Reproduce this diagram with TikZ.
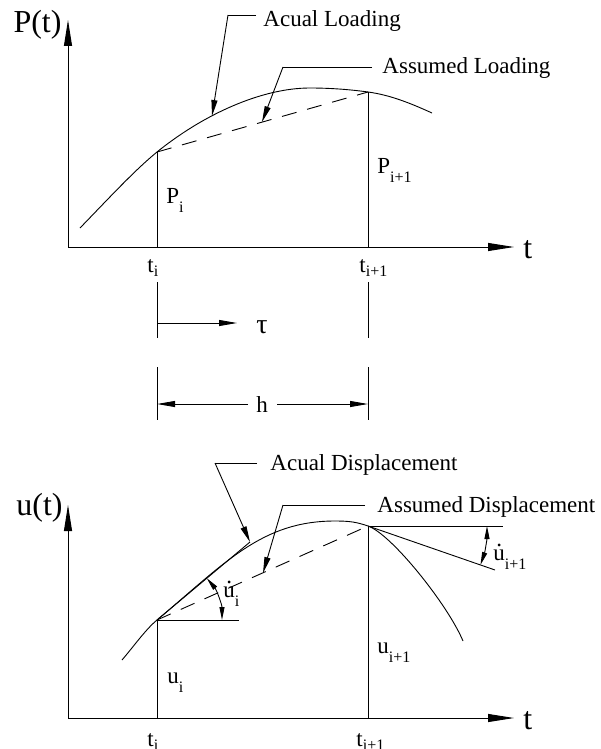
\documentclass[tikz,border=0pt]{standalone}
\usepackage{fontspec}
\setmainfont{Liberation Serif}
\usetikzlibrary{arrows.meta}
\newcommand\subs[2][0.4em]{\raisebox{-#1}{\fontsize{16}{16}\selectfont #2}}
\newcommand\udot{\ooalign{u\cr\hidewidth\raisebox{0.6em}{.}\hidewidth\cr}}
\begin{document}
\begin{tikzpicture}[x=1pt,y=-1pt, line width=0.9pt,
  lbl/.style={inner sep=0pt, font=\fontsize{23}{27}\selectfont},
  big/.style={inner sep=0pt, font=\fontsize{32}{36}\selectfont},
  taufont/.style={inner sep=0pt, font=\fontsize{28}{32}\selectfont},
  axisarrow/.style={-{Triangle[length=26pt,width=8pt]}},
  leadarrow/.style={-{Triangle[length=16pt,width=6pt]}},
  dimarrow/.style={-{Triangle[length=18pt,width=6pt]}},
  angarrow/.style={{Triangle[length=13pt,width=5pt]}-{Triangle[length=13pt,width=5pt]}},
  dashline/.style={dash pattern=on 15pt off 11pt}]
\useasboundingbox (0,0) rectangle (601,749);
% ---------- top plot ----------
\coordinate (O1) at (68,247);
\coordinate (Y1) at (68,20);
\coordinate (X1) at (514,247);
\coordinate (A0) at (80,228);
\coordinate (Pi) at (157,152);
\coordinate (Pk) at (310,88);
\coordinate (Pj) at (368,92);
\coordinate (A1) at (432,113);
\coordinate (ti) at (157,247);
\coordinate (tj) at (368,247);
\draw[axisarrow] (O1) -- (Y1);
\draw[axisarrow] (O1) -- (X1);
\draw (A0) .. controls (110,197) and (135,170) .. (Pi)
      .. controls (204,114) and (262,88) .. (Pk)
      .. controls (330,88) and (350,89.5) .. (Pj)
      .. controls (390,95) and (410,103) .. (A1);
\draw[dashline] (Pi) -- (Pj);
\draw (Pi) -- (ti);
\draw (Pj) -- (tj);
\node[big, anchor=base east] (Pt) at (62,33) {P(t)};
\node[big, anchor=base west] (t1) at (523,258) {t};
\node[lbl, anchor=base west] (Pilab) at (166,203) {P\subs{i}};
\node[lbl, anchor=base west] (Pjlab) at (377,173) {P\subs{i+1}};
\node[lbl, anchor=base west] (tilab) at (147,272) {t\subs[0.2em]{i}};
\node[lbl, anchor=base west] (tjlab) at (359,272) {t\subs[0.2em]{i+1}};
% leaders top
\coordinate (L1a) at (228,15);
\coordinate (L1b) at (256,15);
\coordinate (L1t) at (212,116);
\node[lbl, anchor=base west] (AL) at (263,27) {Acual Loading};
\draw (L1b) -- (L1a);
\draw[leadarrow] (L1a) -- (L1t);
\coordinate (L2a) at (283,67);
\coordinate (L2b) at (372,67);
\coordinate (L2t) at (262,122);
\node[lbl, anchor=base west] (SL) at (382,74) {Assumed Loading};
\draw (L2b) -- (L2a);
\draw[leadarrow] (L2a) -- (L2t);
% ---------- dimensions ----------
\coordinate (e1a) at (157,282);
\coordinate (e1b) at (157,338);
\coordinate (e1c) at (157,367);
\coordinate (e1d) at (157,420);
\coordinate (e2a) at (368,282);
\coordinate (e2b) at (368,338);
\coordinate (e2c) at (368,367);
\coordinate (e2d) at (368,420);
\draw (e1a) -- (e1b);
\draw (e1c) -- (e1d);
\draw (e2a) -- (e2b);
\draw (e2c) -- (e2d);
\coordinate (tau0) at (157,323);
\coordinate (tau1) at (237,323);
\draw[dimarrow] (tau0) -- (tau1);
\node[taufont, anchor=base west] (tau) at (256,333) {τ};
\node[lbl, anchor=center] (h) at (262,405) {h};
\coordinate (hgl) at (248,404);
\coordinate (hgr) at (277,404);
\coordinate (hd1) at (157,404);
\coordinate (hd2) at (368,404);
\draw[dimarrow] (hgl) -- (hd1);
\draw[dimarrow] (hgr) -- (hd2);
% ---------- bottom plot ----------
\coordinate (O2) at (68,718);
\coordinate (Y2) at (68,505);
\coordinate (X2) at (514,718);
\coordinate (B0) at (122,660);
\coordinate (ui) at (157,620);
\coordinate (Bk) at (335,521);
\coordinate (uj) at (368,526);
\coordinate (B1) at (463,641);
\coordinate (ti2) at (157,718);
\coordinate (tj2) at (368,718);
\coordinate (ta) at (250,542);
\coordinate (hi) at (239,620);
\coordinate (hj) at (503,526);
\coordinate (tgj) at (495,570);
\draw[axisarrow] (O2) -- (Y2);
\draw[axisarrow] (O2) -- (X2);
\draw (B0) .. controls (134,646) and (145.5,629.6) .. (ui)
      .. controls (225.9,562.1) and (262,521) .. (Bk)
      .. controls (350,521) and (356.6,522.1) .. (uj)
      .. controls (391.6,534.2) and (448,605) .. (B1);
\draw (ui) -- (ta);
\draw (ui) -- (hi);
\draw[dashline] (ui) -- (uj);
\draw (ui) -- (ti2);
\draw (uj) -- (tj2);
\draw (uj) -- (hj);
\draw (uj) -- (tgj);
\draw[angarrow] ([shift={(-40:65)}]ui) arc[start angle=-40, end angle=0, radius=65];
\draw[angarrow] ([shift={(0:119)}]uj) arc[start angle=0, end angle=19.1, radius=119];
\node[big, anchor=base east] (ut) at (63,515) {u(t)};
\node[big, anchor=base west] (t2) at (523,729) {t};
\node[lbl, anchor=base west] (uilab) at (167,683) {u\subs{i}};
\node[lbl, anchor=base west] (ujlab) at (377,653) {u\subs{i+1}};
\node[lbl, anchor=base west] (udi) at (223,597) {\udot\subs{i}};
\node[lbl, anchor=base west] (udj) at (493,560) {\udot\subs{i+1}};
\node[lbl, anchor=base west] (ti2lab) at (147,746) {t\subs[0.2em]{i}};
\node[lbl, anchor=base west] (tj2lab) at (356,746) {t\subs[0.2em]{i+1}};
% leaders bottom
\coordinate (L3a) at (215,463);
\coordinate (L3b) at (257,463);
\node[lbl, anchor=base west] (AD) at (270,470) {Acual Displacement};
\draw (L3b) -- (L3a);
\draw[leadarrow] (L3a) -- (ta);
\coordinate (L4a) at (283,505);
\coordinate (L4b) at (365,505);
\coordinate (L4t) at (263,573);
\node[lbl, anchor=base west] (SD) at (377,512) {Assumed Displacement};
\draw (L4b) -- (L4a);
\draw[leadarrow] (L4a) -- (L4t);
\end{tikzpicture}
\end{document}
